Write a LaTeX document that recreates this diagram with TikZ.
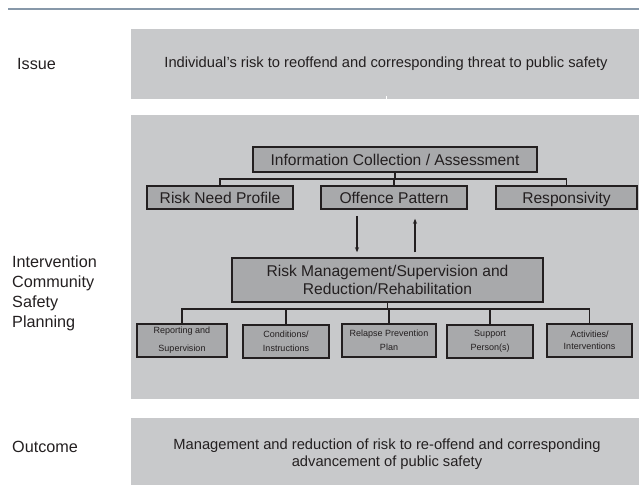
\documentclass[tikz,border=0pt]{standalone}
\usepackage{fontspec}
\setmainfont{Liberation Sans}
\usetikzlibrary{arrows.meta,calc}
\definecolor{panel}{HTML}{C8C9CB}
\definecolor{boxfill}{HTML}{A8A9AB}
\definecolor{ink}{HTML}{231F20}
\definecolor{rule}{HTML}{8798A9}
\begin{document}
\begin{tikzpicture}[x=1pt,y=-1pt,
  panelbox/.style={rectangle,fill=panel,draw=none,inner sep=0pt,minimum width=508pt},
  bigbox/.style={rectangle,fill=boxfill,draw=ink,line width=1.5pt,inner sep=0pt,
    font=\fontsize{15.6}{18}\selectfont,text=ink},
  onebox/.style={bigbox,text height=13pt,text depth=2pt},
  smallbox/.style={rectangle,fill=boxfill,draw=ink,line width=1.5pt,inner sep=0pt,
    minimum height=33pt,align=center,text=ink},
  sidelabel/.style={anchor=base west,inner sep=0pt,font=\fontsize{16.2}{20}\selectfont,text=ink},
  link/.style={draw=ink,line width=1.3pt},
  flow/.style={draw=ink,line width=1.1pt,-{Stealth[length=5pt,width=4pt]}}]
\useasboundingbox (0,0) rectangle (639,485);
% rule across the top
\draw[rule,line width=1.6pt] (8,9) -- (639,9);
% three panels
\node[panelbox,minimum height=70pt] (issue) at (385,64) {};
\node[panelbox,minimum height=284pt] (interv) at (385,257) {};
\node[panelbox,minimum height=67pt] (outcome) at (385,451.5) {};
\draw[white,line width=1pt] ($(issue.south)+(1,-3)$) -- ($(issue.south)+(1,2)$);
% panel texts
\node[font=\fontsize{14.7}{16}\selectfont,text=ink] (issuetext) at (386,64) {Individual\symbol{39}s risk to reoffend and corresponding threat to public safety};
\node[font=\fontsize{14.7}{17}\selectfont,text=ink,align=center] (outtext) at (387,454) {Management and reduction of risk to re-offend and corresponding\\advancement of public safety};
% side labels
\node[sidelabel] (lissue) at (17,69) {Issue};
\node[sidelabel,align=left,anchor=north west] (linterv) at (12,256) {Intervention\\Community\\Safety\\Planning};
\node[sidelabel] (lout) at (12,452) {Outcome};
% assessment tier
\node[onebox,minimum width=284pt,minimum height=25pt] (info) at (395,159.5) {Information Collection / Assessment};
\node[onebox,minimum width=146pt,minimum height=23pt] (rnp) at (220,197.5) {Risk Need Profile};
\node[onebox,minimum width=146pt,minimum height=23pt] (op) at (394,197.5) {Offence Pattern};
\node[onebox,minimum width=141pt,minimum height=23pt] (resp) at (566.5,197.5) {Responsivity};
\coordinate (busA) at (394,179);
\draw[link] (info.south) -- (info.south |- busA);
\draw[link] (rnp.north) -- (rnp.north |- busA) -- (resp.north |- busA) -- (resp.north);
\draw[link] (op.north) -- (op.north |- busA);
% management tier
\node[bigbox,minimum width=311pt,minimum height=44pt,align=center] (mgmt) at (387.5,280) {Risk Management/Supervision and\\Reduction/Rehabilitation};
\draw[flow] ($(op.south)+(-37,6)$) -- ($(mgmt.north)+(-30.5,-5)$);
\draw[flow] ($(mgmt.north)+(27.5,-5)$) -- ($(op.south)+(21,9)$);
% action tier
\node[smallbox,minimum width=90pt,font=\fontsize{9}{18}\selectfont] (b1) at (182,340.5) {Reporting and\\Supervision};
\node[smallbox,minimum width=86pt,font=\fontsize{9}{14}\selectfont] (b2) at (286,341.5) {Conditions/\\Instructions};
\node[smallbox,minimum width=94pt,font=\fontsize{9}{14}\selectfont] (b3) at (389,340.5) {Relapse Prevention\\Plan};
\node[smallbox,minimum width=86pt,font=\fontsize{9}{14}\selectfont] (b4) at (490,341.5) {Support\\Person(s)};
\node[smallbox,minimum width=85pt,font=\fontsize{9}{12}\selectfont] (b5) at (589.5,340.5) {Activities/\\Interventions};
\coordinate (busB) at (387,309);
\draw[link] (mgmt.south) -- (mgmt.south |- busB);
\draw[link] (b1.north) -- (b1.north |- busB) -- (b5.north |- busB) -- (b5.north);
\foreach \b in {b2,b3,b4} \draw[link] (\b.north) -- (\b.north |- busB);
\end{tikzpicture}
\end{document}
